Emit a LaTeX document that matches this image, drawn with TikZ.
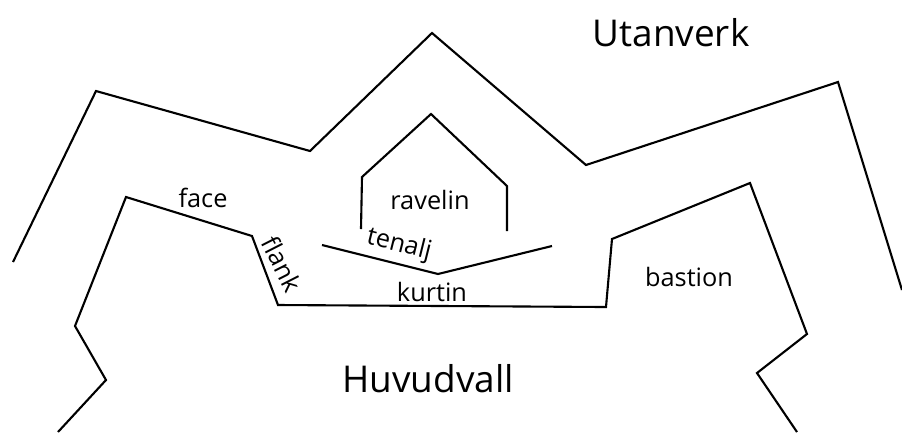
\documentclass[tikz,border=0pt]{standalone}
\usepackage{fontspec}
\setmainfont{Open Sans}
\usepackage{tikz}

\tikzset{
    wall/.style={line width=0.6pt, line join=miter},
    small/.style={font=\fontsize{7.2}{8}\selectfont, inner sep=0pt},
    large/.style={font=\fontsize{10.5}{12}\selectfont, inner sep=0pt},
}

\begin{document}
\begin{tikzpicture}[x=0.01cm, y=-0.01cm]
\useasboundingbox (0,0) rectangle (902,432);
\draw[wall] (13,262) -- (96,91) -- (310,151) -- (432,33) -- (586,165) -- (838,82) -- (902,290);
\draw[wall] (58,432) -- (106,380) -- (75,326) -- (126,197) -- (252,236) -- (278,305) -- (606,307) -- (612,239) -- (750,183) -- (807,334) -- (757,373) -- (797,432);
\draw[wall] (361,229) -- (362,177) -- (431,114) -- (507,186) -- (507,231);
\draw[wall] (322,245) -- (438,274) -- (552,246);
\node[large] (utanverk) at (671,33) {Utanverk};
\node[large] (huvudvall) at (428,379) {Huvudvall};
\node[small] (face) at (203,198) {face};
\node[small, rotate=-63] (flank) at (282,264) {flank};
\node[small] (ravelin) at (430,200) {ravelin};
\node[small, rotate=-14] (tenalj) at (399,245) {tenalj};
\node[small] (kurtin) at (432,292) {kurtin};
\node[small] (bastion) at (689,277) {bastion};
\end{tikzpicture}
\end{document}
